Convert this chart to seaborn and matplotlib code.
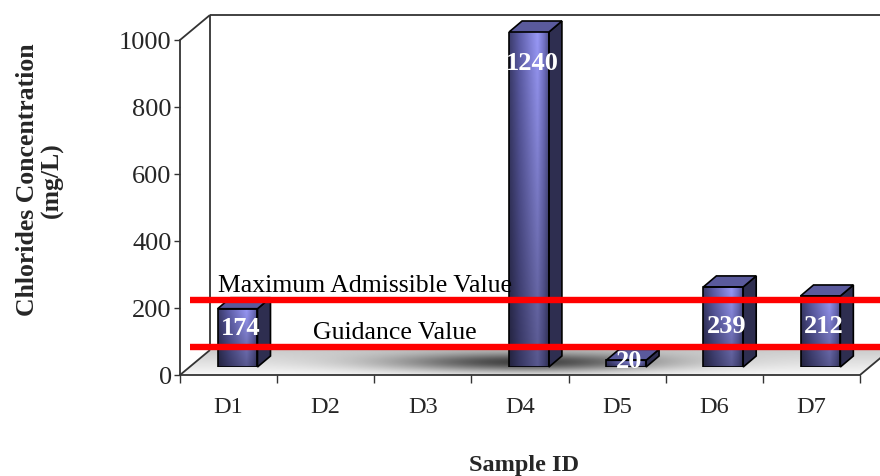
import numpy as np
import pandas as pd
import matplotlib
matplotlib.use("Agg")
import matplotlib.pyplot as plt
import matplotlib.transforms as mtransforms
from matplotlib.patches import Polygon, Rectangle
from matplotlib.colors import LinearSegmentedColormap
import seaborn as sns

# ---- data ----
samples = ["D1", "D2", "D3", "D4", "D5", "D6", "D7"]
chloride = [174, np.nan, np.nan, 1240, 20, 239, 212]
max_admissible = 200
guidance = 60
y_ticks = [0, 200, 400, 600, 800, 1000]

sns.set_theme(style="white")
plt.rcParams["font.family"] = ["Liberation Serif", "DejaVu Serif"]

W, H, DPI = 880, 477, 100
fig = plt.figure(figsize=(W / DPI, H / DPI), dpi=DPI)
fig.patch.set_facecolor("white")

# pixel geometry of the front plane of the box
X0, X1, YB, YT = 180, 860, 376, 41
DX, DY = 30, 25          # depth of the box (right, up)
BDX, BDY = 9, 8          # bars stand a little inside the box
SDX, SDY = 13, 11        # depth of a single bar

# background layer in pixel coordinates: box frame and floor
bg = fig.add_axes([0, 0, 1, 1], zorder=0)
bg.set_xlim(0, W)
bg.set_ylim(H, 0)
bg.axis("off")

floor_poly = Polygon([(X0, YB), (X1, YB), (X1 + DX, YB - DY), (X0 + DX, YB - DY)],
                     closed=True, facecolor="none", edgecolor="none")
bg.add_patch(floor_poly)
fx = np.linspace(X0, X1 + DX, 400)
ft = np.linspace(0, 1, 60)[:, None]
base = 0.97 - 0.17 * ft
band = np.exp(-((ft - 0.5) / 0.38) ** 2)
shadow = 0.62 * np.exp(-((fx[None, :] - 525) / 135.0) ** 2) * band
floor_img = np.clip(base - shadow, 0, 1)
im = bg.imshow(floor_img, cmap="gray", vmin=0, vmax=1, aspect="auto",
               extent=[X0, X1 + DX, YB, YB - DY], origin="lower", interpolation="bilinear")
im.set_clip_path(floor_poly)

frame_kw = dict(color="#333333", lw=1.3, solid_capstyle="butt")
bg.plot([X0, X0 + DX], [YT, YT - DY], **frame_kw)
bg.plot([X0, X0 + DX], [YB, YB - DY], **frame_kw)
bg.plot([X0 + DX, X0 + DX], [YT - DY, YB - DY], **frame_kw)
bg.plot([X0 + DX, W + 10], [YT - DY, YT - DY], **frame_kw)
bg.plot([X1, X1 + DX], [YB, YB - DY], **frame_kw)

# main axes: front plane of the chart
ax = fig.add_axes([X0 / W, (H - YB) / H, (X1 - X0) / W, (YB - YT) / H], zorder=1)
ax.patch.set_visible(False)

df = pd.DataFrame({"sample": samples, "chloride": chloride}).dropna()
sns.barplot(data=df, x="sample", y="chloride", order=samples, width=0.41,
            color="#7878d0", edgecolor="black", linewidth=1.2, ax=ax, zorder=3)

ax.set_xlim(-0.5, len(samples) - 0.5)
ax.set_ylim(0, 1000)
ymax = 1000

ppx = (X1 - X0) / len(samples)
ppy = (YB - YT) / 1000.0
bar_tr = mtransforms.offset_copy(ax.transData, fig=fig, x=BDX, y=BDY, units="dots")
sdx, sdy = SDX / ppx, SDY / ppy

front_cmap = LinearSegmentedColormap.from_list(
    "front", [(0.0, "#3c3c6c"), (0.25, "#5c5ca6"), (0.72, "#9898f6"), (0.88, "#7474c8"), (1.0, "#52528e")])
gx = np.linspace(0, 1, 64)
front_rgb = front_cmap(gx)[None, :, :3]

value_of = dict(zip(samples, chloride))
for p in list(ax.patches):
    h = p.get_height()
    if not np.isfinite(h) or h <= 0:
        continue
    x0, w = p.get_x(), p.get_width()
    x1 = x0 + w
    top = min(h, ymax)
    p.set_transform(bar_tr)
    p.set_facecolor("none")
    p.set_zorder(5)
    p.set_clip_box(None)
    clip = Rectangle((x0 - 1, 0), w + 2, ymax, transform=bar_tr, visible=False)
    ax.add_patch(clip)
    p.set_clip_path(clip)

    # shaded front face
    vshade = np.linspace(0.58, 1.0, 80)[:, None, None]
    face = np.clip(front_rgb * vshade, 0, 1)
    img = ax.imshow(face, extent=[x0, x1, 0, top], origin="lower", aspect="auto",
                    transform=bar_tr, interpolation="bilinear", zorder=4)
    img.set_clip_box(None)
    img.set_clip_path(Rectangle((x0, 0), w, top, transform=bar_tr))

    # side face
    side = Polygon([(x1, 0), (x1 + sdx, sdy), (x1 + sdx, top + sdy), (x1, top)],
                   closed=True, transform=bar_tr, facecolor="#2e2e50",
                   edgecolor="black", lw=1.2, zorder=4.5, clip_on=False)
    ax.add_patch(side)
    # top face
    cap = Polygon([(x0, top), (x1, top), (x1 + sdx, top + sdy), (x0 + sdx, top + sdy)],
                  closed=True, transform=bar_tr, facecolor="#5a5a9c",
                  edgecolor="black", lw=1.2, zorder=4.5, clip_on=False)
    ax.add_patch(cap)

    # value label
    idx = int(round(x0 + w / 2))
    v = value_of[samples[idx]]
    if v > ymax:
        ly = ymax - 90
    else:
        ly = max(min(v - 30, 150), 45) - 27
    ax.text(x0 + w / 2 + 0.03, ly, f"{v:g}", transform=bar_tr, ha="center", va="center",
            color="white", fontsize=19, fontweight="bold", zorder=8, clip_on=False)

# reference lines
for val, label, lx in [(max_admissible, "Maximum Admissible Value", -0.2),
                       (guidance, "Guidance Value", 0.78)]:
    ax.plot([-0.49, len(samples) + 1], [val, val], transform=bar_tr, color="#ff0000",
            lw=4.6, solid_capstyle="butt", clip_on=False, zorder=7)
    ax.text(lx, val + 12, label, transform=bar_tr, ha="left", va="bottom",
            fontsize=18.5, color="black", zorder=7)

# axes styling
for s in ["top", "right"]:
    ax.spines[s].set_visible(False)
for s in ["left", "bottom"]:
    ax.spines[s].set_color("#333333")
    ax.spines[s].set_linewidth(1.3)

ax.set_yticks(y_ticks)
ax.set_yticklabels([str(t) for t in y_ticks])
ax.tick_params(axis="y", which="major", direction="out", length=4.5, width=1,
               color="#333333", pad=1.5, labelsize=19, left=True)
ax.set_xticks(range(len(samples)))
ax.set_xticklabels(samples)
ax.set_xticks(np.arange(-0.5, len(samples)), minor=True)
ax.tick_params(axis="x", which="major", length=0, pad=15, labelsize=17.5)
ax.tick_params(axis="x", which="minor", direction="out", length=5.5, width=1,
               color="#333333", bottom=True)
ax.set_xlabel("")
ax.set_ylabel("")

fig.text(40 / W, 1 - 180 / H, "Chlorides Concentration\n(mg/L)", rotation=90,
         ha="center", va="center", multialignment="center",
         fontsize=18.5, fontweight="bold", linespacing=1.1)
fig.text(524 / W, 1 - 466 / H, "Sample ID", ha="center", va="center",
         fontsize=17.5, fontweight="bold")

fig.savefig("out.png", dpi=DPI, facecolor="white")
